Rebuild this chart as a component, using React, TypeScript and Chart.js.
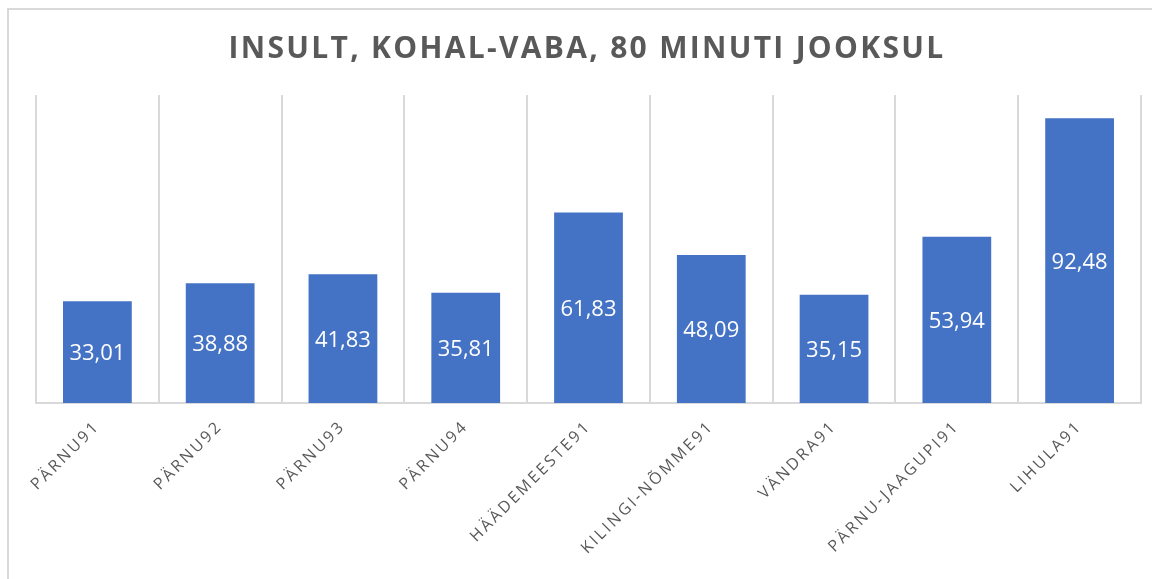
import React, { useEffect, useRef } from "react";
import { Chart, registerables } from "chart.js";

Chart.register(...registerables);

const TITLE = "INSULT, KOHAL-VABA, 80 MINUTI JOOKSUL";
const categories = [
  "PÄRNU91",
  "PÄRNU92",
  "PÄRNU93",
  "PÄRNU94",
  "HÄÄDEMEESTE91",
  "KILINGI-NÕMME91",
  "VÄNDRA91",
  "PÄRNU-JAAGUPI91",
  "LIHULA91",
];
const values = [33.01, 38.88, 41.83, 35.81, 61.83, 48.09, 35.15, 53.94, 92.48];

const FONT = "'Open Sans', 'DejaVu Sans', sans-serif";

const fmt = (v: number) => v.toFixed(2).replace(".", ",");

const spacingPlugin = {
  id: "spacing",
  beforeLayout(chart: any) {
    chart.ctx.letterSpacing = "2.6px";
  },
  beforeDraw(chart: any) {
    chart.ctx.letterSpacing = "2.6px";
  },
  afterDatasetsDraw(chart: any) {
    const ctx = chart.ctx;
    const meta = chart.getDatasetMeta(0);
    ctx.save();
    ctx.letterSpacing = "0px";
    ctx.fillStyle = "#ffffff";
    ctx.font = `22px ${FONT}`;
    ctx.textAlign = "center";
    ctx.textBaseline = "middle";
    meta.data.forEach((bar: any, i: number) => {
      const y = (bar.y + bar.base) / 2 + 2;
      ctx.fillText(fmt(values[i]), bar.x, y);
    });
    ctx.restore();
  },
  afterDraw(chart: any) {
    const ctx = chart.ctx;
    ctx.save();
    ctx.letterSpacing = "2.3px";
    ctx.fillStyle = "#595959";
    ctx.font = `bold 30px ${FONT}`;
    ctx.textAlign = "center";
    ctx.textBaseline = "middle";
    ctx.fillText(TITLE, 587, 49);
    ctx.restore();
  },
};

export default function App() {
  const ref = useRef<HTMLCanvasElement | null>(null);

  useEffect(() => {
    document.body.style.margin = "0";
    document.body.style.background = "#ffffff";
    const canvas = ref.current!;
    const chart = new Chart(canvas, {
      type: "bar",
      data: {
        labels: categories,
        datasets: [
          {
            data: values,
            backgroundColor: "#4472C4",
            borderWidth: 0,
            categoryPercentage: 0.56,
            barPercentage: 1,
          },
        ],
      },
      options: {
        animation: false,
        responsive: false,
        maintainAspectRatio: false,
        events: [],
        layout: { padding: { left: 36, right: 11, top: 95, bottom: 0 } },
        plugins: {
          legend: { display: false },
          title: { display: false },
          tooltip: { enabled: false },
        },
        scales: {
          x: {
            type: "category",
            grid: {
              display: true,
              offset: true,
              color: "#d9d9d9",
              lineWidth: 2,
              drawTicks: false,
            },
            border: { display: true, color: "#d9d9d9", width: 2 },
            ticks: {
              minRotation: 45,
              maxRotation: 45,
              autoSkip: false,
              padding: 14,
              color: "#595959",
              font: { family: FONT, size: 16 },
            },
            afterFit: (s: any) => {
              s.height = 176;
            },
          },
          y: {
            display: false,
            min: 0,
            max: 100,
          },
        },
      },
      plugins: [spacingPlugin],
    });
    return () => chart.destroy();
  }, []);

  return (
    <div style={{ position: "relative", width: 1152, height: 579, overflow: "hidden", background: "#fff" }}>
      <div
        style={{
          position: "absolute",
          left: 7,
          top: 8,
          width: 1300,
          height: 700,
          borderLeft: "2px solid #d9d9d9",
          borderTop: "2px solid #d9d9d9",
        }}
      />
      <canvas ref={ref} width={1152} height={579} style={{ position: "absolute", left: 0, top: 0, width: 1152, height: 579 }} />
    </div>
  );
}
